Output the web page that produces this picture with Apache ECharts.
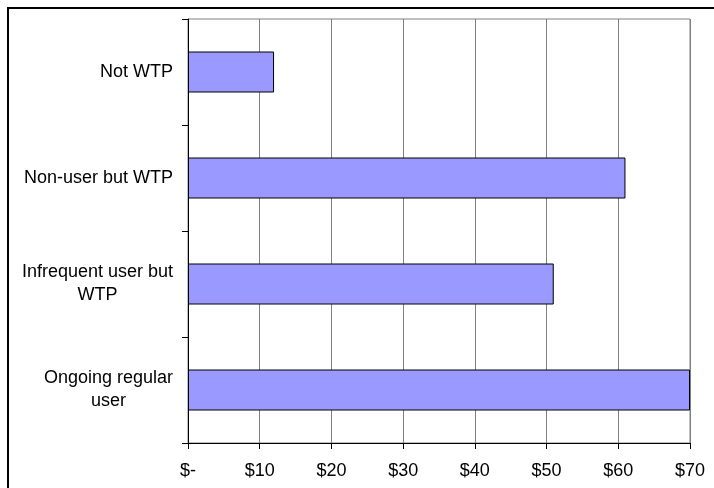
<!DOCTYPE html>
<html>
<head>
<meta charset="utf-8">
<script src="https://cdn.jsdelivr.net/npm/echarts@6/dist/echarts.min.js"></script>
<style>
  html, body { margin: 0; padding: 0; background: #fff; }
  #frame { position: absolute; left: 7px; top: 7px; width: 720px; height: 500px; border-left: 2px solid #000; border-top: 2px solid #000; box-sizing: border-box; }
  #chart { position: absolute; left: 0; top: 0; width: 714px; height: 488px; }
</style>
</head>
<body>
<div id="frame"></div>
<div id="chart"></div>
<script>
// categories listed bottom to top (category axis on y starts at the bottom)
const categories = ['Ongoing regular\nuser', 'Infrequent user but\nWTP', 'Non-user but WTP', 'Not WTP']
const values = [70, 51, 61, 12]
const tickValues = [0, 10, 20, 30, 40, 50, 60, 70]

const chart = echarts.init(document.getElementById('chart'), null, { renderer: 'canvas' })

const option = {
  animation: false,
  textStyle: { fontFamily: 'Liberation Sans, Arial, sans-serif' },
  grid: {
    left: 188,
    right: 24,
    top: 19,
    bottom: 45,
    containLabel: false,
    show: true,
    borderColor: '#808080',
    borderWidth: 1
  },
  xAxis: {
    type: 'value',
    min: tickValues[0],
    max: tickValues[tickValues.length - 1],
    interval: 10,
    axisLine: { show: true, lineStyle: { color: '#000', width: 1 } },
    axisTick: { show: true, length: 6, lineStyle: { color: '#000' } },
    splitLine: { show: true, lineStyle: { color: '#808080', width: 1 } },
    axisLabel: {
      color: '#000',
      fontSize: 18,
      margin: 19,
      formatter: v => v === 0 ? '$-' : '$' + v
    }
  },
  yAxis: {
    type: 'category',
    data: categories,
    axisLine: { show: true, lineStyle: { color: '#000', width: 1 } },
    axisTick: { show: true, length: 6, lineStyle: { color: '#000' } },
    splitLine: { show: false },
    axisLabel: {
      margin: 15,
      align: 'right',
      // each line centred under the widest one
      formatter: v => v.split('\n').map(s => '{c|' + s + '}').join('\n'),
      rich: {
        c: { color: '#000', fontSize: 18, lineHeight: 23, align: 'center' }
      }
    }
  },
  series: [
    {
      type: 'bar',
      data: values,
      barWidth: 41,
      itemStyle: {
        color: '#9999FF',
        borderColor: '#000',
        borderWidth: 1
      }
    }
  ]
}
chart.setOption(option)
</script>
</body>
</html>
